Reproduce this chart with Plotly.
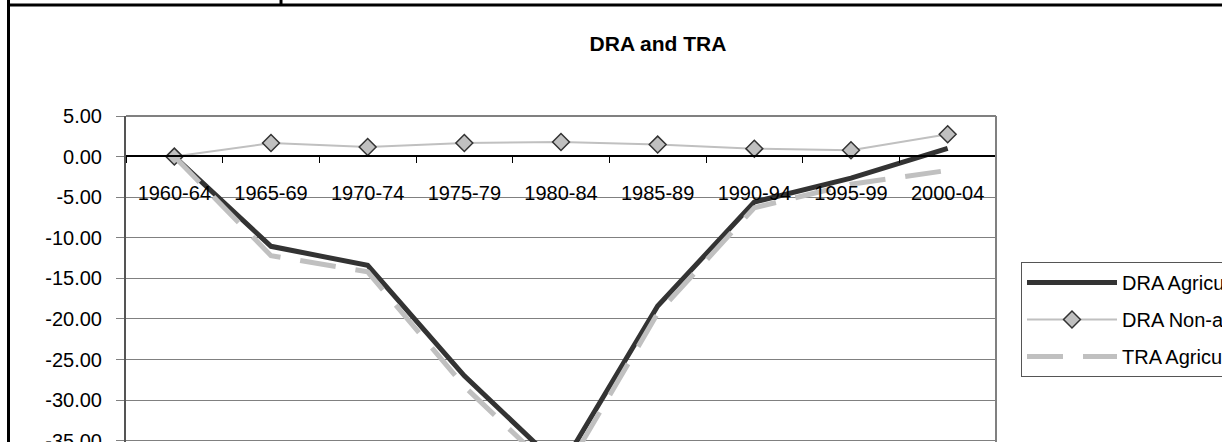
import plotly.graph_objects as go

periods = ['1960-64', '1965-69', '1970-74', '1975-79', '1980-84',
           '1985-89', '1990-94', '1995-99', '2000-04']
dra_agric = [0.0, -11.05, -13.4, -27.0, -38.3, -18.4, -5.6, -2.65, 1.0]
dra_nonagric = [0.0, 1.67, 1.18, 1.67, 1.80, 1.48, 0.98, 0.78, 2.75]
tra_agric = [0.0, -12.2, -14.2, -28.3, -39.6, -19.3, -6.3, -3.4, -1.7]
y_ticks = [5, 0, -5, -10, -15, -20, -25, -30, -35]

FONT = "Liberation Sans"
W, H = 1222, 442
# plot area, in pixels
L, R, T, B = 126, 996, 116, 442


def px(x):
    return (x - L) / (R - L)


def py(y):
    return (B - y) / (B - T)


fig = go.Figure()
fig.add_trace(go.Scatter(
    x=periods, y=dra_agric, name='DRA Agriculture', mode='lines',
    line=dict(color='#333333', width=5), legendgroup='a'))
fig.add_trace(go.Scatter(
    x=periods, y=dra_nonagric, name='DRA Non-agriculture', mode='lines+markers',
    line=dict(color='#c0c0c0', width=2),
    marker=dict(symbol='diamond', size=13, color='#c0c0c0',
                line=dict(color='#333333', width=1.5)),
    legendgroup='b'))
fig.add_trace(go.Scatter(
    x=periods, y=tra_agric, name='TRA Agriculture', mode='lines',
    line=dict(color='#c0c0c0', width=5, dash='36px,20px'), legendgroup='c'))

fig.update_layout(
    width=W, height=H,
    margin=dict(l=L, r=W - R, t=T, b=H - B, autoexpand=False),
    paper_bgcolor='white', plot_bgcolor='white',
    font=dict(family=FONT, size=20, color='black'),
    title=dict(text='<b>DRA and TRA</b>', x=658 / W, xref='container', xanchor='center',
               y=1 - 44 / H, yref='container', yanchor='middle',
               font=dict(family=FONT, size=21, color='black')),
    showlegend=True,
    legend=dict(x=px(1021), y=py(262), xanchor='left', yanchor='top',
                bordercolor='#555555', borderwidth=1, bgcolor='white',
                font=dict(family=FONT, size=20, color='black'),
                itemwidth=90, tracegroupgap=8, traceorder='grouped'),
)

fig.update_xaxes(
    type='category', range=[-0.5, 8.5], anchor='free', position=py(156.3),
    showline=True, linecolor='black', linewidth=1.5,
    ticks='outside', ticklen=6, tickcolor='black', tickson='boundaries',
    showgrid=False, ticklabelstandoff=19,
    tickfont=dict(family=FONT, size=20, color='black'))

fig.update_yaxes(
    range=[-35.15, 5], tickvals=y_ticks, ticktext=[f'{v:.2f}' for v in y_ticks],
    showline=True, linecolor='#555555', linewidth=2,
    ticks='outside', ticklen=8, tickcolor='#808080',
    showgrid=True, gridcolor='#808080', gridwidth=1, zeroline=False,
    ticklabelstandoff=10, ticklabeloverflow='allow',
    tickfont=dict(family=FONT, size=20, color='black'))

# plot area border (top and right)
fig.add_shape(type='line', xref='paper', yref='paper', x0=0, x1=1, y0=1, y1=1,
              line=dict(color='#808080', width=2))
fig.add_shape(type='line', xref='paper', yref='paper', x0=1, x1=1, y0=0, y1=1,
              line=dict(color='#808080', width=2))

# document frame around the chart
fig.add_shape(type='line', xref='paper', yref='paper', x0=px(8.5), x1=px(8.5), y0=py(0), y1=py(446),
              line=dict(color='black', width=3))
fig.add_shape(type='line', xref='paper', yref='paper', x0=px(7), x1=px(1240), y0=py(5), y1=py(5),
              line=dict(color='black', width=3))
fig.add_shape(type='line', xref='paper', yref='paper', x0=px(281), x1=px(281), y0=py(0), y1=py(5),
              line=dict(color='black', width=3))

# drop the browser's default 8px body margin so the figure sits at the page corner
fig.write_html("out.html", config={'displayModeBar': False},
               post_script="document.body.style.margin = '0';")
